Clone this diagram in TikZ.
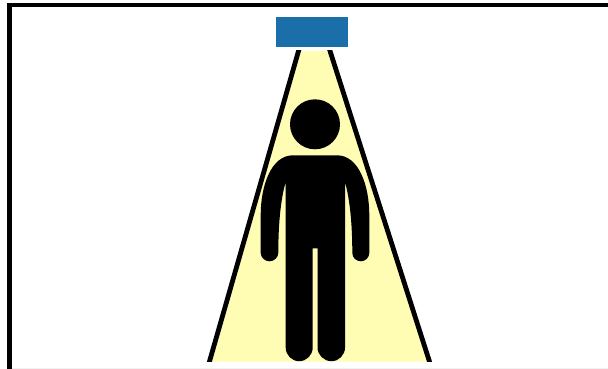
\documentclass[tikz,border=0pt]{standalone}
\definecolor{lampblue}{HTML}{1A6FA9}
\definecolor{beam}{HTML}{FFFCB4}
\tikzset{
  frameline/.style={black,line width=4.5pt,line cap=butt},
  beamedge/.style={black,line width=4.8pt},
  figure/.style={fill=black,draw=none}
}
\begin{document}
\begin{tikzpicture}[x=1pt,y=-1pt]
\useasboundingbox (0,0) rectangle (608,369);
\fill[white] (0,0) rectangle (608,369);
% faint lower edge
\fill[black!5] (12,367.6) rectangle (608,369);
% frame
\draw[frameline] (9.5,369) -- (9.5,5) -- (608,5);
% lamp
\fill[lampblue] (276,17) rectangle (348,47);
% light beam
\begin{scope}
\clip (190,51) rectangle (450,361.7);
\fill[beam] (298.5,51) -- (330,51) -- (429.5,361.7) -- (209.5,361.7) -- cycle;
\draw[beamedge] (299.1,49) -- (208.9,363.5);
\draw[beamedge] (329.4,49) -- (430.1,363.5);
\end{scope}
% person
\fill[figure] (315,124.3) circle [radius=25];
\fill[figure] (293,155.3) -- (337,155.3)
  .. controls (359,155.3) and (369.3,186) .. (369.3,215)
  -- (369.3,252.8)
  .. controls (369.3,257.5) and (365.5,261.3) .. (360.8,261.3)
  .. controls (356.1,261.3) and (352.3,257.5) .. (352.3,252.8)
  .. controls (352.3,225) and (350,200) .. (345,182)
  -- (345,347.5)
  .. controls (345,355) and (339,361.2) .. (331.4,361.2)
  .. controls (323.9,361.2) and (317.5,355) .. (317.5,347.5)
  -- (317.5,248.3) -- (312.7,248.3) -- (312.7,347.5)
  .. controls (312.7,355) and (306.6,361.2) .. (299.2,361.2)
  .. controls (291.7,361.2) and (285.7,355) .. (285.7,347.5)
  -- (285.7,182)
  .. controls (280.5,200) and (278.3,225) .. (278.3,252.8)
  .. controls (278.3,257.5) and (274.2,261.3) .. (269.5,261.3)
  .. controls (264.8,261.3) and (260.7,257.5) .. (260.7,252.8)
  -- (260.7,215)
  .. controls (260.7,186) and (271,155.3) .. (293,155.3)
  -- cycle;
\end{tikzpicture}
\end{document}
